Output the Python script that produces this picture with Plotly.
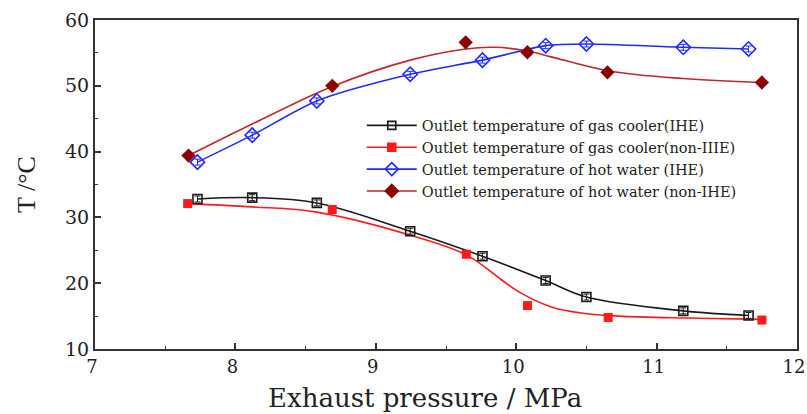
import plotly.graph_objects as go

# Gas cooler outlet temperature (IHE) - black open squares
gc_ihe_x = [7.73, 8.12, 8.58, 9.245, 9.76, 10.21, 10.5, 11.19, 11.655]
gc_ihe_y = [32.8, 33.0, 32.2, 27.9, 24.1, 20.4, 17.9, 15.8, 15.1]

# Gas cooler outlet temperature (non-IHE) - red filled squares
gc_non_x = [7.66, 8.69, 9.645, 10.08, 10.655, 11.75]
gc_non_y = [32.1, 31.2, 24.4, 16.6, 14.8, 14.4]
# fitted curve
gc_non_fit_x = [7.66, 8.12, 8.58, 9.245, 9.645, 9.89, 10.01, 10.25, 10.49, 10.73, 11.2, 11.75]
gc_non_fit_y = [32.1, 31.6, 30.8, 27.3, 24.3, 20.6, 18.8, 16.4, 15.4, 15.0, 14.7, 14.5]

# Hot water outlet temperature (IHE) - blue open diamonds
hw_ihe_x = [7.73, 8.12, 8.58, 9.245, 9.76, 10.21, 10.5, 11.19, 11.655]
hw_ihe_y = [38.4, 42.5, 47.7, 51.75, 53.9, 56.1, 56.35, 55.85, 55.6]

# Hot water outlet temperature (non-IHE) - dark red filled diamonds
hw_non_x = [7.666, 8.69, 9.64, 10.08, 10.65, 11.75]
hw_non_y = [39.4, 50.0, 56.6, 55.1, 52.05, 50.5]
# fitted curve
hw_non_fit_x = [7.666, 8.12, 8.69, 9.245, 9.64, 9.85, 10.08, 10.25, 10.65, 11.19, 11.75]
hw_non_fit_y = [39.4, 44.2, 49.9, 53.9, 55.6, 55.85, 55.3, 54.4, 52.3, 51.1, 50.5]

legend_names = [
    "Outlet temperature of gas cooler(IHE)",
    "Outlet temperature of gas cooler(non-IIIE)",
    "Outlet temperature of hot water (IHE)",
    "Outlet temperature of hot water (non-IHE)",
]

x_ticks = [7, 8, 9, 10, 11, 12]
y_ticks = [10, 20, 30, 40, 50, 60]

x_title = "Exhaust pressure / MPa"
y_title = "T /°C"

BLACK = "#1a1a1a"
RED = "#ff1a1a"
BLUE = "#1f2bff"
DRED_M = "#8b0000"
DRED_L = "#c0282a"

FONT = "DejaVu Serif"
TXT = "#222222"

fig = go.Figure()

err = dict(type="constant", value=0.45, thickness=1, width=3)

# curves
fig.add_trace(go.Scatter(x=gc_ihe_x, y=gc_ihe_y, mode="lines", line=dict(color=BLACK, width=1.6, shape="spline", smoothing=1.0), showlegend=False, hoverinfo="skip"))
fig.add_trace(go.Scatter(x=gc_non_fit_x, y=gc_non_fit_y, mode="lines", line=dict(color=RED, width=1.6, shape="spline", smoothing=1.0), showlegend=False, hoverinfo="skip"))
fig.add_trace(go.Scatter(x=hw_ihe_x, y=hw_ihe_y, mode="lines", line=dict(color=BLUE, width=1.6, shape="spline", smoothing=0.8), showlegend=False, hoverinfo="skip"))
fig.add_trace(go.Scatter(x=hw_non_fit_x, y=hw_non_fit_y, mode="lines", line=dict(color=DRED_L, width=1.6, shape="spline", smoothing=1.0), showlegend=False, hoverinfo="skip"))

# markers
fig.add_trace(go.Scatter(x=gc_ihe_x, y=gc_ihe_y, mode="markers", error_y=dict(err, color=BLACK),
                         marker=dict(symbol="square-open", size=9, color=BLACK, line=dict(width=1.6)), showlegend=False))
fig.add_trace(go.Scatter(x=gc_non_x, y=gc_non_y, mode="markers", error_y=dict(err, color=RED),
                         marker=dict(symbol="square", size=9, color=RED), showlegend=False))
fig.add_trace(go.Scatter(x=hw_ihe_x, y=hw_ihe_y, mode="markers", error_y=dict(err, color=BLUE),
                         marker=dict(symbol="diamond-open", size=11, color=BLUE, line=dict(width=1.6)), showlegend=False))
fig.add_trace(go.Scatter(x=hw_non_x, y=hw_non_y, mode="markers", error_y=dict(err, color=DRED_M),
                         marker=dict(symbol="diamond", size=11, color=DRED_M), showlegend=False))

# legend entries
leg_styles = [
    (BLACK, BLACK, "square-open", 8),
    (RED, RED, "square", 8),
    (BLUE, BLUE, "diamond-open", 10),
    (DRED_L, DRED_M, "diamond", 10),
]
for name, (lc, mc, sym, sz) in zip(legend_names, leg_styles):
    fig.add_trace(go.Scatter(x=[None], y=[None], mode="lines+markers", name=name,
                             line=dict(color=lc, width=1.6),
                             marker=dict(symbol=sym, size=sz, color=mc, line=dict(width=1.6, color=mc))))

fig.add_annotation(text=x_title, xref="paper", yref="paper", x=0.47, y=-0.150,
                   xanchor="center", yanchor="middle", showarrow=False,
                   font=dict(family=FONT, size=26, color=TXT))

fig.update_layout(
    width=807, height=414,
    margin=dict(l=95, r=10, t=20, b=65),
    paper_bgcolor="white", plot_bgcolor="white",
    font=dict(family=FONT, color=TXT),
    legend=dict(x=0.38, y=0.728, xanchor="left", yanchor="top", itemwidth=50,
                font=dict(family=FONT, size=14.5, color=TXT),
                bgcolor="rgba(0,0,0,0)", tracegroupgap=0),
    xaxis=dict(range=[7, 12], tickvals=x_ticks, ticks="inside", ticklen=6, tickwidth=1.5,
               tickcolor="#333", showline=True, linecolor="#333", linewidth=2, mirror=True,
               showgrid=False, zeroline=False, automargin=False, ticklabeloverflow="allow",
               ticklabelshift=-3,
               minor=dict(dtick=0.5, ticks="inside", ticklen=3, tickwidth=1.2, tickcolor="#333"),
               tickfont=dict(family=FONT, size=18, color=TXT)),
    yaxis=dict(range=[10, 60], tickvals=y_ticks, ticks="inside", ticklen=6, tickwidth=1.5,
               tickcolor="#333", showline=True, linecolor="#333", linewidth=2, mirror=True,
               showgrid=False, zeroline=False, automargin=False,
               minor=dict(dtick=5, ticks="inside", ticklen=3, tickwidth=1.2, tickcolor="#333"),
               tickfont=dict(family=FONT, size=19, color=TXT),
               title=dict(text=y_title, font=dict(family="Liberation Serif", size=26, color=TXT), standoff=22)),
)

fig.write_html("out.html")
